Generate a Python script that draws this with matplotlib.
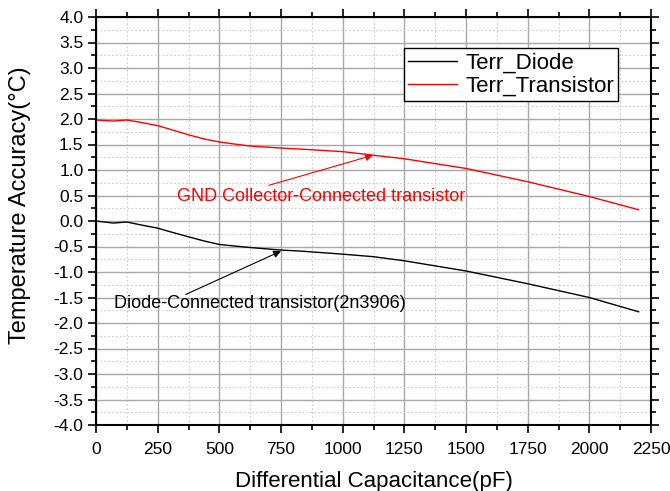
import matplotlib
matplotlib.use("Agg")
import matplotlib.pyplot as plt
from matplotlib.ticker import MultipleLocator, FormatStrFormatter

plt.rcParams['font.family'] = ['Liberation Sans', 'DejaVu Sans']

# values
cap_pf = [0, 70, 125, 175, 250, 300, 375, 437, 500, 560, 625, 750, 830, 1000, 1125, 1250, 1500, 1750, 2000, 2200]
terr_transistor = [1.98, 1.96, 1.98, 1.94, 1.87, 1.80, 1.69, 1.61, 1.55, 1.51, 1.47, 1.43, 1.41, 1.36, 1.29, 1.22, 1.03, 0.77, 0.48, 0.22]
terr_diode = [0.0, -0.04, -0.02, -0.07, -0.14, -0.21, -0.31, -0.39, -0.46, -0.49, -0.52, -0.57, -0.59, -0.65, -0.70, -0.78, -0.98, -1.23, -1.50, -1.78]

fig = plt.figure(figsize=(6.7, 4.91), dpi=100)
ax = fig.add_axes([96 / 670, 1 - 425 / 491, 555 / 670, 408 / 491])

ax.plot(cap_pf, terr_diode, color='black', lw=1.0, label='Terr_Diode')
ax.plot(cap_pf, terr_transistor, color='red', lw=1.0, label='Terr_Transistor')

ax.set_xlim(0, 2250)
ax.set_ylim(-4.0, 4.0)
ax.xaxis.set_major_locator(MultipleLocator(250))
ax.xaxis.set_minor_locator(MultipleLocator(125))
ax.yaxis.set_major_locator(MultipleLocator(0.5))
ax.yaxis.set_minor_locator(MultipleLocator(0.25))
ax.yaxis.set_major_formatter(FormatStrFormatter('%.1f'))

ax.grid(which='major', color='#a8a8a8', lw=1.0, ls='-')
ax.grid(which='minor', color='#cccccc', lw=0.8, ls=(0, (1.5, 2)))
ax.set_axisbelow(True)

ax.tick_params(which='both', direction='out', top=True, right=True,
               labeltop=False, labelright=False, width=1.2, labelsize=12.5)
ax.tick_params(which='major', length=6)
ax.tick_params(which='minor', length=3.5)
ax.tick_params(axis='x', which='major', pad=6)
ax.tick_params(axis='y', which='major', pad=3)
for s in ax.spines.values():
    s.set_linewidth(1.5)

ax.set_xlabel('Differential Capacitance(pF)', fontsize=16, labelpad=10.5)
ax.set_ylabel('Temperature Accuracy(°C)', fontsize=17)
ax.yaxis.set_label_coords(-65 / 555, (425 - 205) / 408)

arrow = dict(arrowstyle='-|>', lw=0.8, shrinkA=0, shrinkB=0,
             mutation_scale=11)
ax.annotate('', xy=(1123, 1.29), xytext=(701, 0.70),
            arrowprops=dict(arrow, color='red'))
ax.text(912, 0.48, 'GND Collector-Connected transistor', color='red',
        fontsize=13, ha='center', va='center')
ax.annotate('', xy=(750, -0.59), xytext=(364, -1.44),
            arrowprops=dict(arrow, color='black'))
ax.text(663, -1.61, 'Diode-Connected transistor(2n3906)', color='black',
        fontsize=13, ha='center', va='center')

leg = ax.legend(loc='upper left', bbox_to_anchor=(404 / 670, 1 - 48 / 491),
                bbox_transform=fig.transFigure, borderaxespad=0,
                fontsize=16, frameon=True, fancybox=False, framealpha=1,
                edgecolor='black', handlelength=2.2, handletextpad=0.35,
                borderpad=0.2, labelspacing=0.1)
leg.get_frame().set_linewidth(1.0)

fig.savefig('out.png', dpi=100)
